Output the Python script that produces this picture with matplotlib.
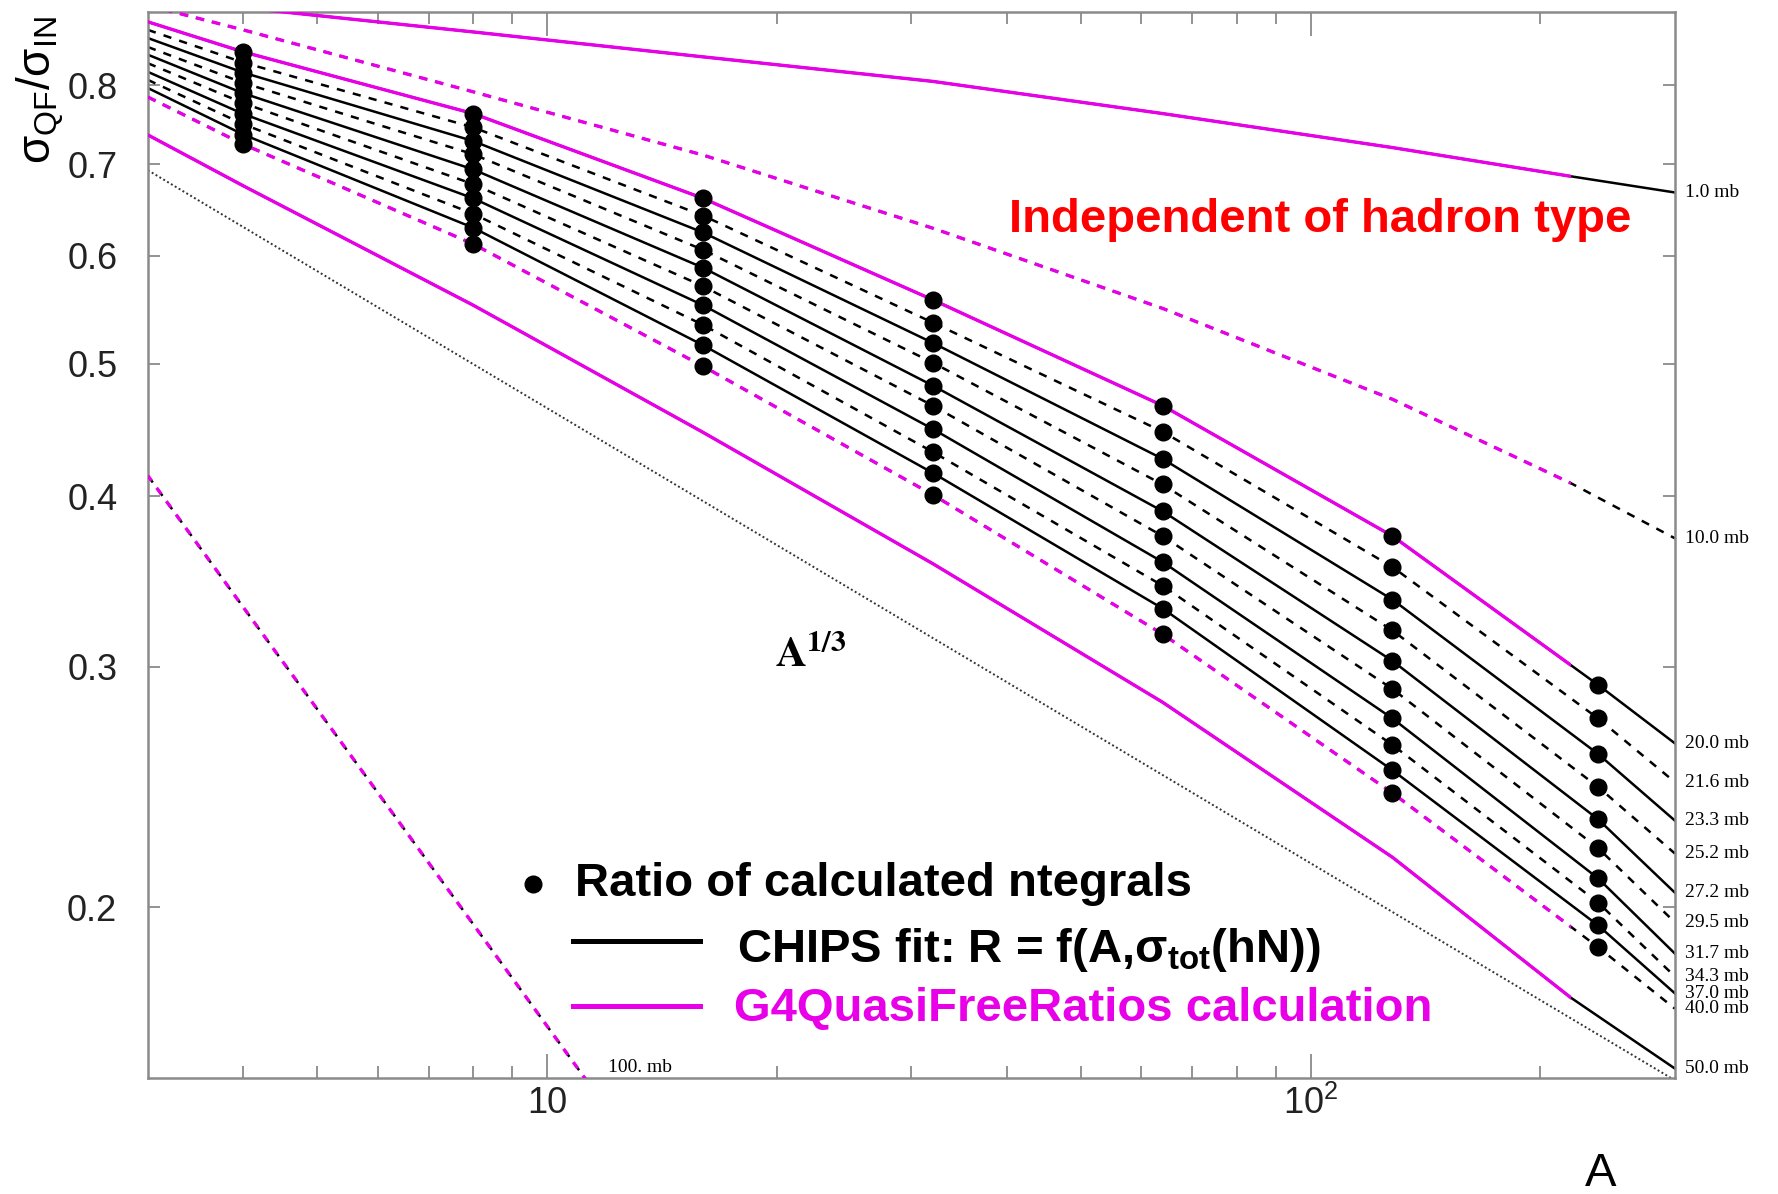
import matplotlib
matplotlib.use("Agg")
import matplotlib.pyplot as plt
from matplotlib.lines import Line2D
from matplotlib.patches import Rectangle
from matplotlib.ticker import FixedLocator, FixedFormatter, NullFormatter, NullLocator

plt.rcParams['font.family'] = ['Liberation Sans', 'DejaVu Sans']
plt.rcParams['mathtext.fontset'] = 'custom'
plt.rcParams['mathtext.rm'] = 'Liberation Sans'
plt.rcParams['mathtext.it'] = 'Liberation Sans:italic'
plt.rcParams['mathtext.bf'] = 'Liberation Sans:bold'

MAGENTA = '#e800e8'
AXIS_GRAY = '#8a8a8a'

# ---- values ----
curve_A = [3, 4, 8, 16, 32, 64, 128, 238, 300]

band_labels = ['20.0 mb', '21.6 mb', '23.3 mb', '25.2 mb', '27.2 mb',
               '29.5 mb', '31.7 mb', '34.3 mb', '37.0 mb', '40.0 mb']
band_ratio = [
    [0.890, 0.846, 0.7625, 0.661, 0.557, 0.466, 0.374, 0.291, 0.2637],
    [0.878, 0.831, 0.745, 0.642, 0.536, 0.446, 0.355, 0.275, 0.247],
    [0.866, 0.817, 0.728, 0.624, 0.518, 0.426, 0.336, 0.259, 0.2315],
    [0.853, 0.803, 0.712, 0.606, 0.501, 0.408, 0.319, 0.245, 0.219],
    [0.842, 0.789, 0.694, 0.588, 0.482, 0.390, 0.303, 0.232, 0.205],
    [0.830, 0.776, 0.677, 0.570, 0.466, 0.374, 0.289, 0.221, 0.195],
    [0.818, 0.762, 0.661, 0.552, 0.448, 0.358, 0.275, 0.210, 0.185],
    [0.807, 0.749, 0.644, 0.534, 0.431, 0.344, 0.263, 0.2016, 0.178],
    [0.796, 0.736, 0.629, 0.516, 0.416, 0.331, 0.252, 0.194, 0.173],
    [0.784, 0.724, 0.612, 0.498, 0.401, 0.317, 0.2425, 0.187, 0.1686],
]

# ratio of calculated integrals, one column per nucleus
ratio_A = [4, 8, 16, 32, 64, 128, 238]
ratio_points = [
    [0.846, 0.831, 0.817, 0.803, 0.789, 0.776, 0.762, 0.749, 0.736, 0.724],
    [0.7625, 0.745, 0.728, 0.712, 0.694, 0.677, 0.661, 0.644, 0.629, 0.612],
    [0.661, 0.642, 0.624, 0.606, 0.588, 0.570, 0.552, 0.534, 0.516, 0.498],
    [0.557, 0.536, 0.518, 0.501, 0.482, 0.466, 0.448, 0.431, 0.416, 0.401],
    [0.466, 0.446, 0.426, 0.408, 0.390, 0.374, 0.358, 0.344, 0.331, 0.317],
    [0.374, 0.355, 0.336, 0.319, 0.303, 0.289, 0.275, 0.263, 0.252, 0.2425],
    [0.291, 0.275, 0.259, 0.245, 0.232, 0.221, 0.210, 0.2016, 0.194, 0.187],
]

sig1_A = [3, 8, 16, 32, 64, 128, 219, 300]
sig1 = [0.927, 0.875, 0.839, 0.805, 0.7625, 0.720, 0.686, 0.6675]

sig10_A = [3, 4, 8, 16, 32, 64, 128, 219, 300]
sig10 = [0.915, 0.878, 0.791, 0.711, 0.6285, 0.549, 0.471, 0.409, 0.3726]

sig50_A = [3, 4, 8, 16, 32, 64, 128, 219, 300]
sig50 = [0.7355, 0.675, 0.552, 0.4455, 0.357, 0.2826, 0.2176, 0.1718, 0.1524]

sig100_A = [3, 11.2, 12.5]
sig100 = [0.414, 0.150, 0.138]

a13_A = [3, 300]
a13 = [0.693, 0.1494]

g4_A_max = 219  # G4QuasiFreeRatios calculation stops here

# ---- figure ----
fig = plt.figure(figsize=(17.78, 11.94), dpi=100)
ax = fig.add_axes([0.0832, 0.0972, 0.8588, 0.8928])
ax.set_xscale('log')
ax.set_yscale('log')
ax.set_xlim(3, 300)
ax.set_ylim(0.15, 0.905)

SOLID = '-'
DASH_K = (0, (3.3, 3.3))
DASH_M = (0, (2.6, 2.35))

# all CHIPS fit curves (black), G4 part overdrawn in magenta
curves = [('1.0 mb', sig1_A, sig1, SOLID, True),
          ('10.0 mb', sig10_A, sig10, DASH_K, True)]
for i, (lab, vals) in enumerate(zip(band_labels, band_ratio)):
    ls = SOLID if i % 2 == 0 else DASH_K
    curves.append((lab, curve_A, vals, ls, i in (0, 9)))
curves.append(('50.0 mb', sig50_A, sig50, SOLID, True))

clip = Rectangle((3, 0.15), g4_A_max - 3, 0.755, transform=ax.transData)

for lab, xs, ys, ls, g4 in curves:
    ax.plot(xs, ys, color='black', lw=1.8, linestyle=ls, zorder=2)
    if g4:
        line, = ax.plot(xs, ys, color=MAGENTA, lw=2.4,
                        linestyle=SOLID if ls == SOLID else DASH_M, zorder=3)
        line.set_clip_path(clip)
    ax.text(1.0066, ys[-1], lab, transform=ax.get_yaxis_transform(),
            ha='left', va='center', fontsize=14, family='Liberation Serif',
            clip_on=False)

ax.plot(sig100_A, sig100, color='black', lw=1.8, linestyle=DASH_K, zorder=2)
ax.plot(sig100_A, sig100, color=MAGENTA, lw=2.4, linestyle=(0.5, (2.3, 2.65)),
        zorder=3)
ax.text(12.0, 0.1527, '100. mb', ha='left', va='center', fontsize=14,
        family='Liberation Serif')

ax.plot(a13_A, a13, color='#333333', lw=1.4, linestyle=(0, (1, 1.3)), zorder=2)
ax.text(19.9, 0.2997, r'$\mathbf{A^{1/3}}$', math_fontfamily='stix',
        fontsize=31, va='baseline', ha='left')

for a, col in zip(ratio_A, ratio_points):
    ax.plot([a] * len(col), col, 'o', color='black', ms=12, zorder=5)

# ---- axes styling ----
for s in ax.spines.values():
    s.set_color(AXIS_GRAY)
    s.set_linewidth(1.8)

ax.xaxis.set_major_locator(FixedLocator([10, 100]))
ax.xaxis.set_major_formatter(FixedFormatter(['10', r'$\mathregular{10^{2}}$']))
ax.xaxis.set_minor_locator(FixedLocator([4, 5, 6, 7, 8, 9, 20, 30, 40, 50,
                                         60, 70, 80, 90, 200]))
ax.xaxis.set_minor_formatter(NullFormatter())
ax.yaxis.set_major_locator(FixedLocator([0.2, 0.3, 0.4, 0.5, 0.6, 0.7, 0.8]))
ax.yaxis.set_major_formatter(FixedFormatter(['0.2', '0.3', '0.4', '0.5',
                                             '0.6', '0.7', '0.8']))
ax.yaxis.set_minor_locator(NullLocator())

ax.tick_params(axis='both', which='both', direction='in', top=True, right=True,
               color=AXIS_GRAY, width=1.3, labelcolor='#222222', labelsize=26)
ax.tick_params(axis='x', which='major', length=17, pad=6)
ax.tick_params(axis='x', which='minor', length=8.5)
ax.tick_params(axis='y', which='major', length=8.5, pad=22)

fig.text(0.0225, 0.9246, r'$\mathregular{σ_{QF}/σ_{IN}}$', rotation=90,
         ha='center', va='center', fontsize=33)
fig.text(0.9005, 0.0168, 'A', ha='center', va='center', fontsize=34)

# ---- annotations / legend ----
fig.text(0.5675, 0.8057, 'Independent of hadron type', color='#ff0000',
         fontsize=34, fontweight='bold', ha='left', va='baseline')

fig.add_artist(Line2D([0.2998], [0.2596], marker='o', ms=12, color='black',
                      transform=fig.transFigure))
fig.text(0.3234, 0.2496, 'Ratio of calculated ntegrals', fontsize=34,
         fontweight='bold', ha='left', va='baseline')
fig.add_artist(Line2D([0.3223, 0.3937], [0.2119, 0.2119], color='black', lw=3.6,
                      transform=fig.transFigure))
fig.text(0.4145, 0.1943, r'CHIPS fit: R = f(A,$\mathbf{σ_{tot}}$(hN))',
         fontsize=34, fontweight='bold', ha='left', va='baseline')
fig.add_artist(Line2D([0.3223, 0.3937], [0.1575, 0.1575], color=MAGENTA, lw=3.6,
                      transform=fig.transFigure))
fig.text(0.4128, 0.1449, 'G4QuasiFreeRatios calculation', color=MAGENTA,
         fontsize=34, fontweight='bold', ha='left', va='baseline')

fig.savefig('out.png', dpi=100)
